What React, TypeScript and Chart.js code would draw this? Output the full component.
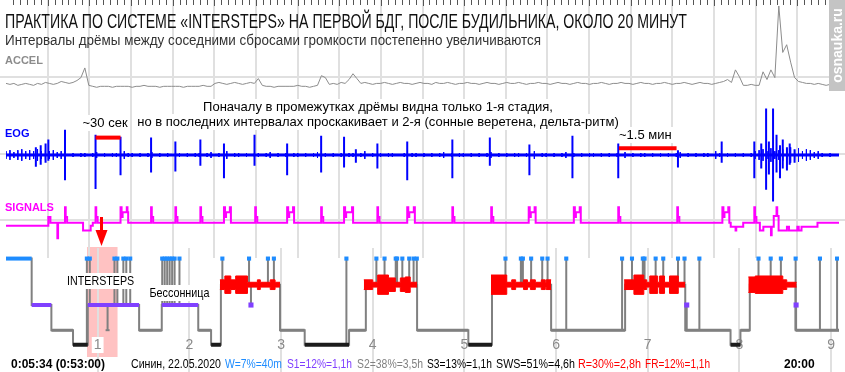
import React, { useEffect, useRef } from 'react';
import { Chart, registerables } from 'chart.js';
Chart.register(...registerables);

// ================= TEXT =================
const TITLE = 'ПРАКТИКА ПО СИСТЕМЕ «INTERSTEPS» НА ПЕРВОЙ БДГ, ПОСЛЕ БУДИЛЬНИКА, ОКОЛО 20 МИНУТ';
const SUBTITLE = 'Интервалы дрёмы между соседними сбросами громкости постепенно увеличиваются';
const NOTE_LINES = [
  'Поначалу в промежутках дрёмы видна только 1-я стадия,',
  'но в последних интервалах проскакивает и 2-я (сонные веретена, дельта-ритм)',
];
const CHANNEL_NAMES = ['ACCEL', 'EOG', 'SIGNALS'];
const MARK_LABELS = ['~30 сек', '~1.5 мин'];
const EVENT_LABELS = ['INTERSTEPS', 'Бессонница'];
const HOUR_TICKS = [1, 2, 3, 4, 5, 6, 7, 8, 9];
const START_LABEL = '0:05:34 (0:53:00)';
const END_LABEL = '20:00';
const STATS = ['Синин, 22.05.2020', 'W=7%=40m', 'S1=12%=1,1h', 'S2=38%=3,5h', 'S3=13%=1,1h', 'SWS=51%=4,6h', 'R=30%=2,8h', 'FR=12%=1,1h'];
const WATERMARK = 'osnauka.ru';

// ================= UPPER WINDOW (20 min from 0:53:00), time in seconds =================
const WINDOW_START_H = 53 / 60;
const WINDOW_LEN_S = 1200;

const ACCEL_STEP_S = 5.68;
const ACCEL = [
  8, 7, 8, 6, 7, 8, 7, 6, 8, 7, 9, 8, 7, 8, 10, 9, 8, 9, 11, 14,
  24,
  6, 5, 4, 5, 5, 5, 4, 5, 5, 5, 5, 4, 5, 5, 6, 5, 5, 5, 4, 5, 5, 5, 5, 5, 4, 5, 5, 5, 5, 6, 5, 5,
  8, 9, 8, 7, 8, 9, 8, 7, 8, 9, 8,
  13,
  6, 5, 5, 4, 5, 5, 5, 5, 5, 6, 5, 5, 4, 5,
  6, 16, 14, 7, 8, 7, 9, 8, 12, 18, 13,
  8, 9, 8, 7, 8, 8, 9, 8, 7, 8, 9, 8, 8, 7, 8, 9, 8, 8, 7, 9,
  8, 8, 9, 8, 7, 8, 8, 9, 8, 8, 7, 8, 9, 8, 8, 7, 8, 9, 8, 8,
  9, 8, 7, 8, 8, 9, 8, 8, 7, 8, 9, 8, 8, 7, 8, 9, 8, 8, 7, 8,
  8, 9, 8, 7, 8, 8, 9, 8, 8, 7, 8, 9, 8, 8, 7, 8, 8, 9, 8, 7,
  8, 8, 9, 8, 7, 8, 9, 8, 8, 7,
  8, 9, 10, 12, 9, 22, 15,
  6, 6, 7, 6, 6,
  20, 12, 22, 14,
  88, 40, 48, 30, 14,
  10, 9, 8, 8, 7, 8, 7, 6, 7, 6, 7,
];

const EOG_NOISE_STEP_S = 5.68;
const EOG_NOISE =
  '453564546454534' +
  '2121221231212214221212312121221212212312141221212212312121221212312121212212412121221' +
  '121221212123121221212123121212212141221212312121221212121312122121212123121212214212121212' +
  '456474564857465342121';

// [time s, max, min]
const EOG_SPIKES = [
  [43, 8, -12], [50, 10, -10], [57, 12, -8], [61, 16, -6], [85, 26, -26], [129, 21, -35], [165, 19, -21],
  [209, 18, -18], [244, 14, -17], [280, 16, -11], [314, 12, -24], [358, 21, -11], [405, 12, -21],
  [454, 20, -18], [487, 19, -13], [504, 6, -8], [535, 12, -14], [578, 14, -26], [643, 16, -24],
  [697, 18, -11], [754, 11, -21], [816, 20, -24], [882, 12, -24], [968, 5, -13], [1031, 14, -8],
  [1078, 14, -24], [1088, 12, -14], [1095, 48, -36], [1099, 14, -20], [1105, 48, -48], [1110, 21, -18],
  [1115, 10, -24], [1119, 16, -14], [1125, 8, -16], [1129, 12, -10], [1136, 6, -8],
];

// [time s, level] step signal
const SIGNALS = [
  [0, -3], [61, 6], [64, 0], [74, -16], [75, 0], [85, 16], [86, 6], [88, 0], [111, -8], [122, -3], [125, 0],
  [129, 16], [130, 6], [132, 0],
  [165, 16], [166.5, 6], [168, 11], [174, 16], [175, 11], [176, 0],
  [209, 16], [210, 6], [212, 0],
  [244, 16], [245, 6], [247, 0],
  [280, 16], [281, 6], [283, 0],
  [314, 16], [315.5, 6], [317, 11], [322.5, 16], [324, 0],
  [359, 16], [360, 6], [362, 0],
  [405, 16], [406.5, 6], [408, 11], [413.5, 16], [415, 0],
  [454, 16], [455, 6], [457, 0],
  [487, 16], [488.5, 6], [490, 11], [498.5, 16], [500, 0],
  [535, 16], [536, 6], [538, 0],
  [578, 16], [579.5, 6], [581, 11], [587.5, 16], [589, 0],
  [643, 16], [644, 6], [646, 0],
  [699, 16], [700, 6], [702, 0],
  [753, 16], [754.5, 6], [756, 11], [761.5, 16], [763, 0],
  [818, 16], [819.5, 6], [821, 11], [826.5, 16], [828, 0],
  [882, 16], [883, 6], [885, 0],
  [967, 16], [968, 6], [970, 0],
  [1032, 16], [1033.5, 6], [1035, 11], [1040.5, 16], [1042, 0],
  [1044, -4], [1051, -8], [1052, -4], [1062, 0],
  [1078, 16], [1079, 6], [1081, 0],
  [1086, -8], [1091, -4], [1102, -13], [1103, -4], [1106, 7], [1110, 16], [1111, 7], [1113, -8],
  [1125, -4], [1128, -8], [1140, -4], [1142, -8], [1146, -4], [1169, 0], [1200, 0],
];

const MARKED_INTERVALS_S = [[129, 165], [883, 966]];

// ================= HYPNOGRAM, time in hours =================
const HYPNO_END_H = 9.086;
const HYPNO = [
  [0, 0.28, 'W'], [0.28, 0.495, 'S1'], [0.495, 0.731, 'S2'], [0.731, 0.892, 'S3'], [0.892, 1.452, 'S1'],
  [1.452, 1.699, 'S2'], [1.699, 2.097, 'S1'], [2.097, 2.237, 'S2'], [2.237, 2.344, 'S3'], [2.344, 2.989, 'R'],
  [2.989, 3.258, 'S2'], [3.258, 3.742, 'S3'], [3.742, 3.925, 'S2'], [3.925, 4.484, 'R'], [4.484, 5.043, 'S2'],
  [5.043, 5.301, 'S3'], [5.301, 5.946, 'R'], [5.946, 6.753, 'S2'], [6.753, 7.409, 'R'], [7.409, 7.903, 'S2'],
  [7.903, 8.011, 'S3'], [8.011, 8.113, 'S2'], [8.113, 8.613, 'R'], [8.613, 9.086, 'S2'],
];

// brief transitions [hour, stage]
const BRIEF = [
  [0.882, 'W'], [0.914, 'W'], [1.108, 'S2'], [1.183, 'W'], [1.215, 'W'], [1.28, 'W'], [1.312, 'W'], [1.355, 'W'],
  [1.704, 'W'], [1.731, 'W'], [1.758, 'W'], [1.785, 'W'], [1.812, 'W'], [1.839, 'W'], [1.892, 'W'],
  [2.36, 'W'], [2.651, 'W'], [2.672, 'S1'], [2.857, 'W'], [2.922, 'W'],
  [3.713, 'W'],
  [4.04, 'W'], [4.129, 'W'], [4.251, 'W'], [4.266, 'W'], [4.323, 'W'], [4.398, 'W'], [4.446, 'W'], [4.481, 'W'],
  [5.448, 'W'], [5.616, 'W'], [5.638, 'W'], [5.728, 'W'], [5.849, 'W'], [5.907, 'W'],
  [6.111, 'W'], [6.72, 'W'],
  [6.828, 'W'], [6.946, 'W'], [6.965, 'W'], [7.086, 'W'], [7.169, 'W'], [7.33, 'W'], [7.401, 'W'], [7.425, 'S1'],
  [7.563, 'W'],
  [8.208, 'W'], [8.341, 'W'], [8.452, 'W'], [8.613, 'W'], [8.618, 'S1'],
  [8.878, 'W'], [9.065, 'W'],
];

// REM intensity per episode: [start hour, intensity]; last entry closes the episode
const REM_EPISODES = [
  [[2.333, 2], [2.387, 3.6], [2.452, 2], [2.505, 3.6], [2.634, 1], [2.742, 2], [2.774, 1], [2.882, 2], [2.935, 1], [2.989, 0]],
  [[3.903, 2], [4.0, 1], [4.054, 4], [4.172, 2.8], [4.247, 1], [4.301, 2.8], [4.355, 3.2], [4.409, 1], [4.484, 0]],
  [[5.29, 4], [5.462, 1], [5.516, 2], [5.559, 1], [5.645, 2], [5.688, 1], [5.72, 2], [5.774, 1], [5.839, 2], [5.882, 1], [5.892, 2], [5.946, 0]],
  [[6.742, 2], [6.849, 4], [6.957, 2], [6.989, 1], [7.022, 3.6], [7.108, 1], [7.129, 3.6], [7.183, 1], [7.237, 3.6], [7.333, 1], [7.409, 0]],
  [[8.097, 3.2], [8.172, 3.6], [8.473, 2], [8.516, 1], [8.624, 0]],
];

const ARROW_H = 1.032;
const EVENT_LABEL_H = [1.032, 1.892];

// ================= STYLE / LAYOUT =================
const C = {
  W: '#1e8cff', S1: '#8040ff', S2: '#808080', S3: '#1c1c1c', R: '#ff0000',
  grid: '#e0e0e0', accel: '#8c8c8c', eog: '#0000ff', sig: '#ff00ff', pink: '#ffc2c2',
};
const STAT_COLORS = ['#000', C.W, C.S1, '#808080', '#000', '#000', C.R, C.R];
const STAT_X = [131, 225, 287, 357, 427, 496, 578, 645];
const STAT_W = [90, 57, 65, 66, 65, 79, 63, 65];
const LV = { W: 0, R: -1.213, S1: -2.157, S2: -3.326, S3: -4 };
const REM_K = 2.5 / 22.25;
const SANS = '"Liberation Sans", Arial, sans-serif';
const NARROW = '"Liberation Sans Narrow", "Liberation Sans", Arial, sans-serif';

function txt(ctx, s, x, y, o) {
  ctx.font = o.font;
  ctx.textAlign = o.align || 'left';
  ctx.textBaseline = 'alphabetic';
  let w = ctx.measureText(s).width;
  if (o.maxW && w > o.maxW) w = o.maxW;
  if (o.bg) {
    const l = o.align === 'center' ? x - w / 2 : o.align === 'right' ? x - w : x;
    ctx.fillStyle = o.bg;
    ctx.fillRect(l - 2, y - o.size, w + 4, o.size + 4);
  }
  ctx.fillStyle = o.color;
  if (o.maxW) ctx.fillText(s, x, y, o.maxW);
  else ctx.fillText(s, x, y);
}

const decor = {
  id: 'decor',
  beforeDatasetsDraw(chart) {
    const { ctx } = chart;
    const xm = chart.scales.xm, xh = chart.scales.xh;
    ctx.save();
    const p0 = xh.getPixelForValue(WINDOW_START_H);
    const p1 = xh.getPixelForValue(WINDOW_START_H + WINDOW_LEN_S / 3600);
    ctx.fillStyle = C.pink;
    ctx.fillRect(p0, 247, p1 - p0, 110);
    ctx.fillStyle = C.grid;
    for (let s = 60; s < WINDOW_LEN_S; s += 60) {
      const x = Math.round(xm.getPixelForValue(s));
      ctx.fillRect(x - 1, 0, 2, 258);
    }
    HOUR_TICKS.forEach((h) => {
      const x = Math.round(xh.getPixelForValue(h));
      ctx.fillRect(x - 1, 248, 2, 124);
    });
    [['yA', 15], ['yE', 1], ['yS', 3]].forEach(([id, v]) => {
      const y = Math.round(chart.scales[id].getPixelForValue(v));
      ctx.fillRect(0, y - 1, chart.width, 2);
    });
    ctx.fillStyle = '#555';
    for (let s = 10; s < WINDOW_LEN_S; s += 10) {
      const x = Math.round(xm.getPixelForValue(s));
      ctx.fillRect(x, 0, 1, s % 60 === 0 ? 6 : 5);
    }
    HOUR_TICKS.forEach((h) => {
      const x = xh.getPixelForValue(h);
      txt(ctx, String(h), x, 349, { font: '14px ' + SANS, color: '#8a8a8a', align: 'center', bg: h === 1 ? '#fff' : null, size: 12 });
    });
    ctx.restore();
  },
  afterDatasetsDraw(chart) {
    const { ctx } = chart;
    const xm = chart.scales.xm, xh = chart.scales.xh;
    ctx.save();
    txt(ctx, TITLE, 5, 28, { font: '20px ' + NARROW, color: '#111', maxW: 682 });
    txt(ctx, SUBTITLE, 5, 45, { font: '14px ' + NARROW, color: '#333', maxW: 536 });
    const chColors = ['#8c8c8c', C.eog, C.sig];
    const chY = [64, 137, 211];
    CHANNEL_NAMES.forEach((n, i) => txt(ctx, n, 5, chY[i], { font: 'bold 11px ' + SANS, color: chColors[i] }));
    txt(ctx, NOTE_LINES[0], 378, 111, { font: '13px ' + SANS, color: '#000', align: 'center', maxW: 355, bg: '#fff', size: 12 });
    txt(ctx, NOTE_LINES[1], 378, 126, { font: '13px ' + SANS, color: '#000', align: 'center', maxW: 490, bg: '#fff', size: 12 });
    const m0 = MARKED_INTERVALS_S[0], m1 = MARKED_INTERVALS_S[1];
    txt(ctx, MARK_LABELS[0], (xm.getPixelForValue(m0[0]) + xm.getPixelForValue(m0[1])) / 2 - 3, 127, { font: '13px ' + SANS, color: '#000', align: 'center', maxW: 49, bg: '#fff', size: 12 });
    txt(ctx, MARK_LABELS[1], xm.getPixelForValue(m1[0]), 139, { font: '13px ' + SANS, color: '#000', maxW: 57, bg: '#fff', size: 12 });
    txt(ctx, EVENT_LABELS[0], xh.getPixelForValue(EVENT_LABEL_H[0]), 285, { font: '13px ' + SANS, color: '#000', align: 'center', maxW: 67, bg: '#fff', size: 12 });
    txt(ctx, EVENT_LABELS[1], xh.getPixelForValue(EVENT_LABEL_H[1]), 297, { font: '13px ' + SANS, color: '#000', align: 'center', maxW: 60, bg: '#fff', size: 12 });
    // arrow
    const ax = Math.round(xh.getPixelForValue(ARROW_H));
    ctx.fillStyle = C.R;
    ctx.fillRect(ax - 1, 217, 3, 14);
    ctx.beginPath();
    ctx.moveTo(ax - 5.5, 230); ctx.lineTo(ax + 6.5, 230); ctx.lineTo(ax + 0.5, 246); ctx.closePath();
    ctx.fill();
    // bottom row
    txt(ctx, START_LABEL, 11, 368, { font: 'bold 12px ' + SANS, color: '#000', maxW: 94 });
    txt(ctx, END_LABEL, 784, 368, { font: 'bold 12px ' + SANS, color: '#000', maxW: 31 });
    STATS.forEach((s, i) => txt(ctx, s, STAT_X[i], 368, { font: '12px ' + NARROW, color: STAT_COLORS[i], maxW: STAT_W[i] }));
    // watermark
    ctx.fillStyle = '#c4c4c4';
    ctx.fillRect(829, 0, 16, 91);
    ctx.translate(837.5, 45.5);
    ctx.rotate(-Math.PI / 2);
    ctx.font = 'bold 14px ' + SANS;
    ctx.textAlign = 'center';
    ctx.textBaseline = 'middle';
    ctx.fillStyle = '#fff';
    ctx.fillText(WATERMARK, 0, 1, 84);
    ctx.restore();
  },
};

function buildConfig() {
  const line = (data, color, width, order, extra = {}) => ({
    type: 'line', data, borderColor: color, backgroundColor: color, borderWidth: width,
    pointRadius: 0, fill: false, tension: 0, order, borderCapStyle: 'butt', ...extra,
  });
  const up = (x, y) => ({ xAxisID: x, yAxisID: y });
  const hyp = { xAxisID: 'xh', yAxisID: 'yH' };

  const accel = ACCEL.map((v, i) => ({ x: i * ACCEL_STEP_S, y: v }));
  const noise = EOG_NOISE.split('').map(Number).flatMap((a, i) => [
    { x: i * EOG_NOISE_STEP_S, y: a }, { x: i * EOG_NOISE_STEP_S, y: -a }, { x: i * EOG_NOISE_STEP_S, y: null },
  ]);
  const spikes = EOG_SPIKES.flatMap(([t, hi, lo]) => [{ x: t, y: hi }, { x: t, y: lo }, { x: t, y: null }]);
  const sig = SIGNALS.map(([t, v]) => ({ x: t, y: v }));
  const markBars = MARKED_INTERVALS_S.map(([a, b], i) => [{ x: a, y: [18, 7][i] }, { x: b, y: [18, 7][i] }]);

  const last = HYPNO[HYPNO.length - 1];
  const step = HYPNO.map(([s, , st]) => ({ x: s, y: LV[st] })).concat([{ x: last[1], y: LV[last[2]] }]);
  const overlay = (stage) => HYPNO.filter((h) => h[2] === stage).flatMap(([s, e]) => [
    { x: s, y: LV[stage] }, { x: e, y: LV[stage] }, { x: e, y: null },
  ]);
  const host = (t) => (HYPNO.find(([s, e]) => t >= s && t < e) || last)[2];
  const briefLines = BRIEF.flatMap(([t, st]) => [{ x: t, y: LV[host(t)] }, { x: t, y: LV[st] }, { x: t, y: null }]);
  const briefPts = (stage) => BRIEF.filter((b) => b[1] === stage).map(([t]) => ({ x: t, y: LV[stage] }));

  const datasets = [];
  datasets.push(line(step, C.S2, 2, 100, { ...hyp, stepped: true }));
  datasets.push(line(overlay('S2'), C.S2, 3, 95, hyp));
  datasets.push(line(briefLines, C.S2, 2, 90, hyp));
  datasets.push(line(overlay('W'), C.W, 4, 85, hyp));
  datasets.push(line(overlay('S1'), C.S1, 4, 85, hyp));
  datasets.push(line(overlay('S3'), C.S3, 4, 85, hyp));
  REM_EPISODES.forEach((ep) => {
    const pts = (sign) => ep.map(([t, k], i) => ({ x: t, y: LV.R + sign * REM_K * (i === ep.length - 1 ? ep[i - 1][1] : k) }));
    datasets.push(line(pts(1), C.R, 1, 80, { ...hyp, stepped: true, fill: '+1', backgroundColor: C.R }));
    datasets.push(line(pts(-1), C.R, 1, 80, { ...hyp, stepped: true }));
  });
  datasets.push({ type: 'scatter', data: briefPts('W'), ...hyp, pointStyle: 'rect', pointRadius: 2.9, backgroundColor: C.W, borderWidth: 0, order: 70 });
  datasets.push({ type: 'scatter', data: briefPts('S1'), ...hyp, pointStyle: 'rect', pointRadius: 3.6, backgroundColor: C.S1, borderWidth: 0, order: 70 });
  datasets.push({ type: 'scatter', data: briefPts('S2'), ...hyp, pointStyle: 'line', pointRadius: 2, borderColor: C.S2, borderWidth: 2, order: 70 });
  datasets.push(line(accel, C.accel, 1, 60, up('xm', 'yA')));
  datasets.push(line(noise, C.eog, 1, 59, up('xm', 'yE')));
  datasets.push(line([{ x: 0, y: 0 }, { x: WINDOW_LEN_S, y: 0 }], C.eog, 3, 58, up('xm', 'yE')));
  datasets.push(line(spikes, C.eog, 2, 57, up('xm', 'yE')));
  datasets.push(line(sig, C.sig, 2, 56, { ...up('xm', 'yS'), stepped: true }));
  markBars.forEach((d) => datasets.push(line(d, C.R, 4, 50, up('xm', 'yE'))));

  return {
    type: 'line',
    data: { datasets },
    plugins: [decor],
    options: {
      animation: false,
      responsive: false,
      devicePixelRatio: 1,
      events: [],
      layout: { padding: 0 },
      plugins: { legend: { display: false }, tooltip: { enabled: false }, title: { display: false } },
      scales: {
        xm: { type: 'linear', axis: 'x', min: 0, max: WINDOW_LEN_S, display: false },
        xh: { type: 'linear', axis: 'x', min: 0, max: HYPNO_END_H, display: false },
        yA: { type: 'linear', axis: 'y', min: -284, max: 88, display: false },
        yE: { type: 'linear', axis: 'y', min: -218, max: 154, display: false },
        yS: { type: 'linear', axis: 'y', min: -148, max: 224, display: false },
        yH: { type: 'linear', axis: 'y', min: -4.989, max: 11.73, display: false },
      },
    },
  };
}

export default function App() {
  const ref = useRef<HTMLCanvasElement>(null);
  useEffect(() => {
    const chart = new Chart(ref.current as HTMLCanvasElement, buildConfig() as any);
    return () => chart.destroy();
  }, []);
  return (
    <div style={{ position: 'absolute', left: 0, top: 0, width: 845, height: 372, background: '#fff' }}>
      <canvas ref={ref} width={845} height={372} style={{ display: 'block', width: 845, height: 372 }} />
    </div>
  );
}
